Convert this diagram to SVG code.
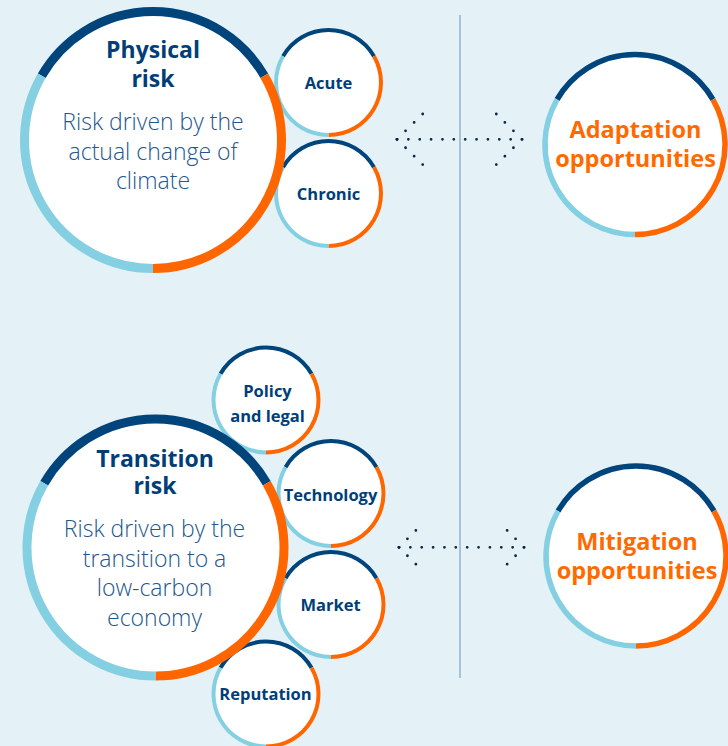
<svg xmlns="http://www.w3.org/2000/svg" xmlns:xlink="http://www.w3.org/1999/xlink" width="728" height="746" viewBox="0 0 728 746">
<style>
.bg{fill:#e4f2f8}
.fill{fill:#ffffff}
.dk{fill:none;stroke:#00447c}
.or{fill:none;stroke:#ff6600}
.lb{fill:none;stroke:#84d0e2}
.L path{stroke-width:9}
.M path{stroke-width:5.5}
.S path{stroke-width:4}
text{font-family:"Open Sans","Noto Sans","Liberation Sans",sans-serif;text-anchor:middle}
.title{font-size:23px;font-weight:700;fill:#003e78}
.desc{font-size:23px;font-weight:300;fill:#23578c}
.lbl{font-size:16.5px;font-weight:700;fill:#003e78}
.opp{font-size:23.5px;font-weight:700;fill:#ff6a00}
.divider{stroke:#a6c4d6;stroke-width:2}
.dots{fill:none;stroke:#0b2545;stroke-width:2.8;stroke-linecap:round}
</style>
<defs>
<g id="ringL" class="L">
<circle class="fill" r="128.5"/>
<path class="dk" d="M-111.28,-64.25 A128.5,128.5 0 0 1 111.28,-64.25"/>
<path class="or" d="M111.28,-64.25 A128.5,128.5 0 0 1 0,128.5"/>
<path class="lb" d="M0,128.5 A128.5,128.5 0 0 1 -111.28,-64.25"/>
</g>
<g id="ringM" class="M">
<circle class="fill" r="90"/>
<path class="dk" d="M-77.94,-45 A90,90 0 0 1 77.94,-45"/>
<path class="or" d="M77.94,-45 A90,90 0 0 1 0,90"/>
<path class="lb" d="M0,90 A90,90 0 0 1 -77.94,-45"/>
</g>
<g id="ringS" class="S">
<circle class="fill" r="52.5"/>
<path class="dk" d="M-45.47,-26.25 A52.5,52.5 0 0 1 45.47,-26.25"/>
<path class="or" d="M45.47,-26.25 A52.5,52.5 0 0 1 0,52.5"/>
<path class="lb" d="M0,52.5 A52.5,52.5 0 0 1 -45.47,-26.25"/>
</g>
</defs>
<rect class="bg" x="0" y="0" width="728" height="746"/>
<line class="divider" x1="460" y1="15" x2="460" y2="678"/>

<g id="acute">
<use xlink:href="#ringS" x="328.5" y="82.5"/>
<text class="lbl" x="328.5" y="88.5">Acute</text>
</g>
<g id="chronic">
<use xlink:href="#ringS" x="328.5" y="193.5"/>
<text class="lbl" x="328.5" y="199.5">Chronic</text>
</g>
<g id="physical-risk">
<use xlink:href="#ringL" x="153" y="140"/>
<text class="title" x="153" y="58">Physical</text>
<text class="title" x="153" y="87">risk</text>
<text class="desc" x="153" y="130">Risk driven by the</text>
<text class="desc" x="153" y="159.5">actual change of</text>
<text class="desc" x="153" y="189">climate</text>
</g>

<g id="policy-legal">
<use xlink:href="#ringS" x="266" y="400"/>
<text class="lbl" x="267.5" y="397">Policy</text>
<text class="lbl" x="267.5" y="422">and legal</text>
</g>
<g id="technology">
<use xlink:href="#ringS" x="331" y="493.5"/>
<text class="lbl" x="330.5" y="500.5">Technology</text>
</g>
<g id="market">
<use xlink:href="#ringS" x="331" y="604.5"/>
<text class="lbl" x="330.5" y="610.5">Market</text>
</g>
<g id="reputation">
<use xlink:href="#ringS" x="266" y="694"/>
<text class="lbl" x="265.5" y="700">Reputation</text>
</g>
<g id="transition-risk">
<use xlink:href="#ringL" x="155.5" y="547.5"/>
<text class="title" x="155" y="466.5">Transition</text>
<text class="title" x="155" y="494">risk</text>
<text class="desc" x="154.5" y="537">Risk driven by the</text>
<text class="desc" x="154.5" y="566.5">transition to a</text>
<text class="desc" x="154.5" y="596">low-carbon</text>
<text class="desc" x="154.5" y="625.5">economy</text>
</g>

<g id="adaptation-opportunities">
<use xlink:href="#ringM" x="635" y="144.5"/>
<text class="opp" x="635.5" y="137.5">Adaptation</text>
<text class="opp" x="635.5" y="167">opportunities</text>
</g>
<g id="mitigation-opportunities">
<use xlink:href="#ringM" x="636" y="556"/>
<text class="opp" x="637" y="549.5">Mitigation</text>
<text class="opp" x="637" y="578.5">opportunities</text>
</g>

<g id="connectors">
<path class="dots" stroke-dasharray="0 11.364" d="M397,139.3 H522"/>
<path class="dots" stroke-dasharray="0 12.02" d="M397,139.3 L422.7,114"/>
<path class="dots" stroke-dasharray="0 12.02" d="M397,139.3 L422.7,164.6"/>
<path class="dots" stroke-dasharray="0 12.02" d="M522,139.3 L496.3,114"/>
<path class="dots" stroke-dasharray="0 12.02" d="M522,139.3 L496.3,164.6"/>
<path class="dots" stroke-dasharray="0 11.364" d="M399,547.3 H524"/>
<path class="dots" stroke-dasharray="0 11.93" d="M399,547.3 L424.3,522"/>
<path class="dots" stroke-dasharray="0 11.93" d="M399,547.3 L424.3,572.6"/>
<path class="dots" stroke-dasharray="0 11.93" d="M524,547.3 L498.7,522"/>
<path class="dots" stroke-dasharray="0 11.93" d="M524,547.3 L498.7,572.6"/>
</g>
</svg>
